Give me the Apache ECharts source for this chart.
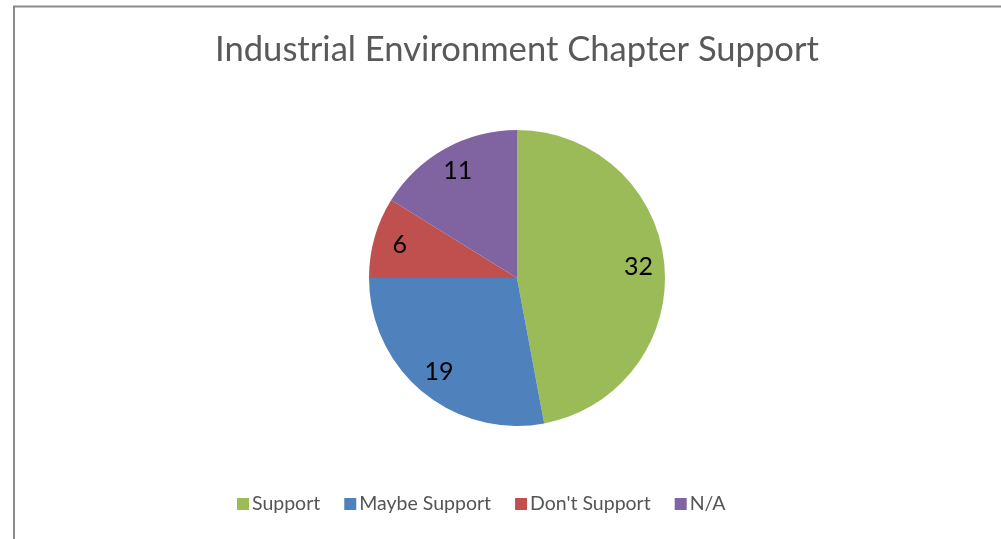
<!DOCTYPE html>
<html>
<head>
<meta charset="utf-8">
<script src="https://cdn.jsdelivr.net/npm/echarts@6/dist/echarts.min.js"></script>
<style>
html,body{margin:0;padding:0;background:#fff;}
#chart{width:1001px;height:539px;}
</style>
</head>
<body>
<div id="chart"></div>
<script>
const titleText = 'Industrial Environment Chapter Support';
const categories = ['Support', 'Maybe Support', "Don't Support", 'N/A'];
const values = [32, 19, 6, 11];
const colors = ['#9BBB59', '#4F81BD', '#C0504D', '#8064A2'];

const FONT = 'Lato';
const data = categories.map((c, i) => ({ name: c, value: values[i], itemStyle: { color: colors[i] } }));

const chart = echarts.init(document.getElementById('chart'), null, { renderer: 'canvas' });
chart.setOption({
  backgroundColor: '#ffffff',
  animation: false,
  title: {
    text: titleText,
    left: 512,
    textAlign: 'center',
    top: 27,
    textStyle: { fontFamily: FONT, fontSize: 34.6, fontWeight: 'normal', color: '#595959' }
  },
  legend: {
    data: categories,
    left: 232,
    top: 489,
    orient: 'horizontal',
    itemWidth: 12,
    itemHeight: 12,
    itemGap: 24,
    icon: 'rect',
    textStyle: { fontFamily: FONT, fontSize: 19.5, color: '#555555', padding: [0, 0, 0, -2] }
  },
  graphic: [{
    type: 'rect',
    shape: { x: 14, y: 6.5, width: 1100, height: 700 },
    style: { fill: 'none', stroke: '#8a8a8a', lineWidth: 2 },
    silent: true,
    z: 100
  }],
  series: [{
    type: 'pie',
    center: [517, 278],
    radius: [0, 148],
    startAngle: 90,
    clockwise: true,
    data: data,
    label: { show: false },
    labelLine: { show: false },
    itemStyle: { borderWidth: 0 },
    emphasis: { disabled: true }
  }, {
    type: 'pie',
    center: [517, 278],
    radius: [90, 148],
    startAngle: 90,
    clockwise: true,
    silent: true,
    data: data.map(d => ({ name: d.name, value: d.value, itemStyle: { color: 'rgba(0,0,0,0)' } })),
    itemStyle: { borderWidth: 0 },
    label: {
      show: true,
      position: 'inside',
      formatter: '{c}',
      fontFamily: FONT,
      fontSize: 25,
      color: '#000000'
    },
    labelLine: { show: false },
    emphasis: { disabled: true }
  }]
});
</script>
</body>
</html>
